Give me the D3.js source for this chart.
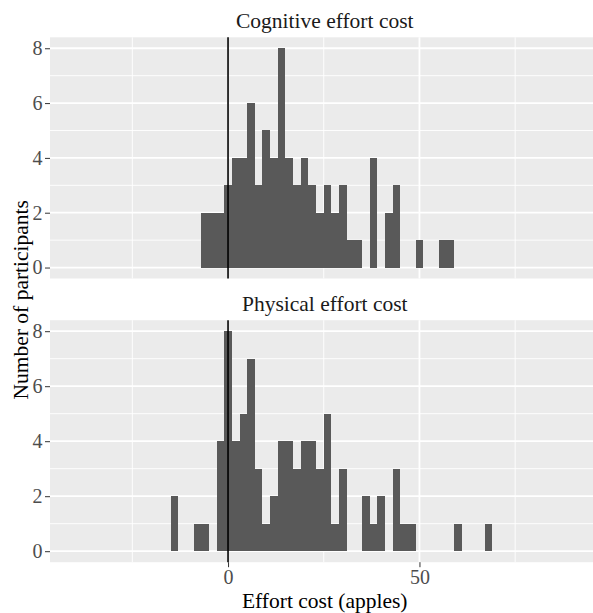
<!DOCTYPE html>
<html>
<head>
<meta charset="utf-8">
<script src="https://cdn.jsdelivr.net/npm/d3@7"></script>
<style>
  html, body { margin: 0; padding: 0; background: #ffffff; }
  svg { display: block; }
  text { font-family: "Liberation Serif", "Times New Roman", serif; }
</style>
</head>
<body>
<script>
// ---- data ----
const facetTitles = ["Cognitive effort cost", "Physical effort cost"];
const binCenters = [-14,-12,-10,-8,-6,-4,-2,0,2,4,6,8,10,12,14,16,18,20,22,24,26,28,30,32,34,36,38,40,42,44,46,48,50,52,54,56,58,60,62,64,66,68];
const cognitiveCounts = [0,0,0,0,2,2,2,3,4,4,6,3,5,4,8,4,3,4,3,2,3,2,3,1,1,0,4,0,2,3,0,0,1,0,0,1,1,0,0,0,0,0];
const physicalCounts  = [2,0,0,1,1,0,4,8,4,5,7,3,1,2,4,4,3,4,4,3,5,1,3,0,0,2,1,2,0,3,1,1,0,0,0,0,0,1,0,0,0,1];
const binWidth = 2;
const xMajorTicks = [0, 50];
const xMinorTicks = [-25, 25, 75];
const yMajorTicks = [0, 2, 4, 6, 8];
const yMinorTicks = [1, 3, 5, 7];
const refLine = 0;
const xTitle = "Effort cost (apples)";
const yTitle = "Number of participants";

// ---- layout ----
const W = 593, H = 613;
const panelLeft = 50, panelRight = 597.5;
const panels = [
  { title: facetTitles[0], counts: cognitiveCounts, top: 37.3, bottom: 278.5 },
  { title: facetTitles[1], counts: physicalCounts,  top: 320.2, bottom: 562.2 }
];

const svg = d3.select("body").append("svg").attr("width", W).attr("height", H);

const x = d3.scaleLinear().domain([-46.5, 96.5]).range([panelLeft, panelRight]);

panels.forEach((p, i) => {
  const y = d3.scaleLinear().domain([-0.4, 8.4]).range([p.bottom, p.top]);
  const g = svg.append("g");

  // background
  g.append("rect")
    .attr("x", panelLeft).attr("y", p.top)
    .attr("width", panelRight - panelLeft).attr("height", p.bottom - p.top)
    .attr("fill", "#EBEBEB");

  // minor grid
  g.selectAll(".ymin").data(yMinorTicks).enter().append("line")
    .attr("x1", panelLeft).attr("x2", panelRight)
    .attr("y1", d => y(d)).attr("y2", d => y(d))
    .attr("stroke", "#ffffff").attr("stroke-width", 0.9);
  g.selectAll(".xmin").data(xMinorTicks).enter().append("line")
    .attr("y1", p.top).attr("y2", p.bottom)
    .attr("x1", d => x(d)).attr("x2", d => x(d))
    .attr("stroke", "#ffffff").attr("stroke-width", 0.9);
  // major grid
  g.selectAll(".ymaj").data(yMajorTicks).enter().append("line")
    .attr("x1", panelLeft).attr("x2", panelRight)
    .attr("y1", d => y(d)).attr("y2", d => y(d))
    .attr("stroke", "#ffffff").attr("stroke-width", 1.8);
  g.selectAll(".xmaj").data(xMajorTicks).enter().append("line")
    .attr("y1", p.top).attr("y2", p.bottom)
    .attr("x1", d => x(d)).attr("x2", d => x(d))
    .attr("stroke", "#ffffff").attr("stroke-width", 1.8);

  // bars
  const bins = binCenters.map((c, k) => ({ c: c, n: p.counts[k] })).filter(d => d.n > 0);
  g.selectAll(".bar").data(bins).enter().append("rect")
    .attr("x", d => x(d.c - binWidth / 2))
    .attr("width", d => x(d.c + binWidth / 2) - x(d.c - binWidth / 2))
    .attr("y", d => y(d.n))
    .attr("height", d => y(0) - y(d.n))
    .attr("fill", "#595959")
    .attr("shape-rendering", "crispEdges");

  // reference line
  g.append("line")
    .attr("x1", x(refLine)).attr("x2", x(refLine))
    .attr("y1", p.top).attr("y2", p.bottom)
    .attr("stroke", "#000000").attr("stroke-width", 1.6);

  // strip title
  g.append("text")
    .attr("x", (panelLeft + panelRight) / 2 + 1)
    .attr("y", p.top - 9.3)
    .attr("text-anchor", "middle")
    .attr("font-size", "21.5px")
    .attr("fill", "#1A1A1A")
    .text(p.title);

  // y axis
  const yAxis = d3.axisLeft(y).tickValues(yMajorTicks).tickSize(5).tickPadding(2.5).tickFormat(d3.format("d"));
  const ya = g.append("g").attr("transform", `translate(${panelLeft},0)`).call(yAxis);
  ya.select(".domain").remove();
  ya.selectAll(".tick line").attr("stroke", "#333333").attr("stroke-width", 1);
  ya.selectAll(".tick text")
    .attr("fill", "#4D4D4D")
    .attr("font-size", "20px")
    .attr("font-family", "Liberation Serif, Times New Roman, serif");

  // x axis only for bottom panel
  if (i === panels.length - 1) {
    const xAxis = d3.axisBottom(x).tickValues(xMajorTicks).tickSize(5).tickPadding(3).tickFormat(d3.format("d"));
    const xa = g.append("g").attr("transform", `translate(0,${p.bottom})`).call(xAxis);
    xa.select(".domain").remove();
    xa.selectAll(".tick line").attr("stroke", "#333333").attr("stroke-width", 1);
    xa.selectAll(".tick text")
      .attr("fill", "#4D4D4D")
      .attr("font-size", "20px")
      .attr("font-family", "Liberation Serif, Times New Roman, serif");
  }
});

// axis titles
svg.append("text")
  .attr("x", (panelLeft + panelRight) / 2 + 1)
  .attr("y", 608)
  .attr("text-anchor", "middle")
  .attr("font-size", "21.5px")
  .attr("fill", "#000000")
  .text(xTitle);

svg.append("text")
  .attr("transform", `translate(27.5,${(panels[0].top + panels[1].bottom) / 2}) rotate(-90)`)
  .attr("text-anchor", "middle")
  .attr("font-size", "21.5px")
  .attr("fill", "#000000")
  .text(yTitle);
</script>
</body>
</html>
